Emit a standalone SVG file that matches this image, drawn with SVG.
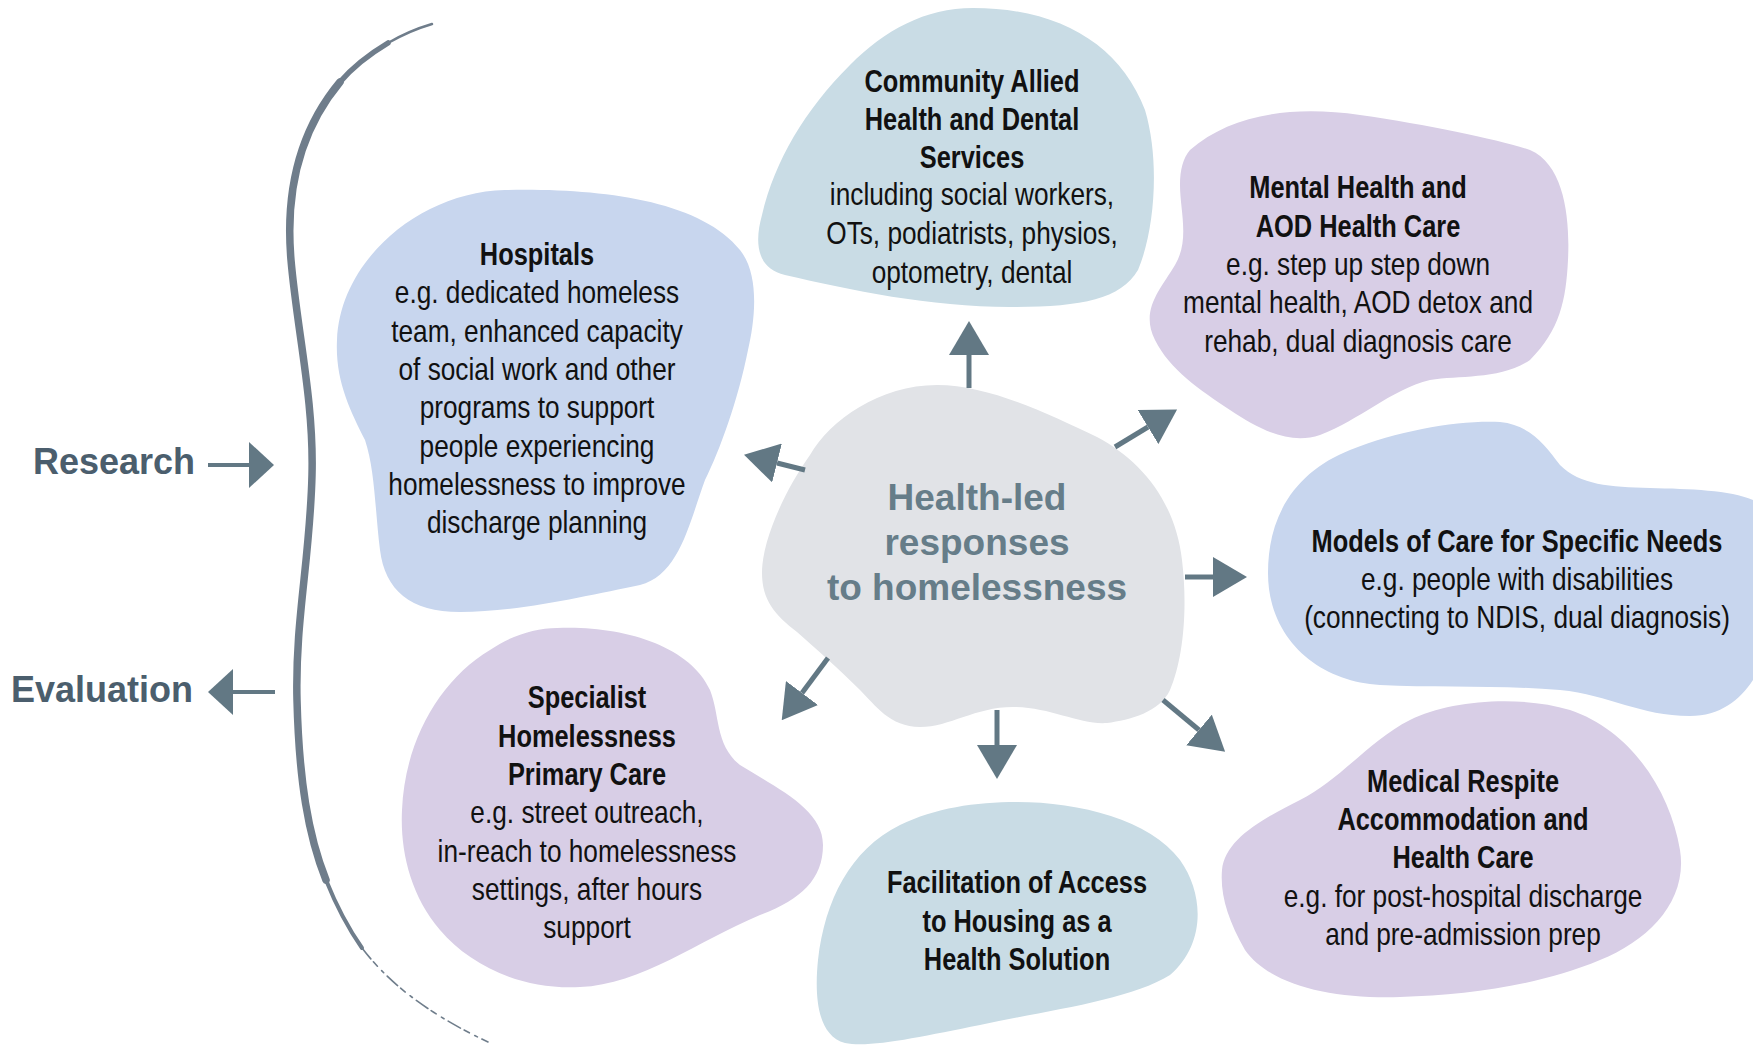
<svg xmlns="http://www.w3.org/2000/svg" width="1753" height="1059" viewBox="0 0 1753 1059">
<style>
.t{font-family:"Liberation Sans",Arial,sans-serif;fill:#111;text-anchor:middle}
.b{font-weight:700;font-size:31px}
.r{font-weight:400;font-size:32px}
.c{font-family:"Liberation Sans",Arial,sans-serif;font-weight:700;font-size:37px;fill:#667d89;text-anchor:middle}
.lab{font-family:"Liberation Sans",Arial,sans-serif;font-weight:700;font-size:36px;fill:#4b5e6d}
.arr{stroke:#627884;stroke-width:5;fill:none;marker-end:url(#ah)}
.arr2{stroke:#627884;stroke-width:4;fill:none;marker-end:url(#ah2)}
.br{stroke:#6f7d8b;fill:none;stroke-linecap:round}
.blue{fill:#c9dce5}.peri{fill:#c8d6ee}.lav{fill:#d8cee6}.grey{fill:#e1e3e7}
</style>
<defs>
<marker id="ah" markerUnits="userSpaceOnUse" markerWidth="34" markerHeight="40" refX="0" refY="20" orient="auto"><path d="M0,0 L34,20 L0,40 Z" fill="#627884"/></marker>
<marker id="ah2" markerUnits="userSpaceOnUse" markerWidth="25" markerHeight="46" refX="0" refY="23" orient="auto"><path d="M0,0 L25,23 L0,46 Z" fill="#627884"/></marker>
</defs>
<rect width="1753" height="1059" fill="#fff"/>

<g id="bracket">
<path class="br" stroke-width="2.5" d="M432,24 C415,29 400,36 388,43"/>
<path class="br" stroke-width="5.5" d="M388,43 C368,55 352,68 340,82"/>
<path class="br" stroke-width="7.5" d="M340,82 C300,130 285,190 291,260 C297,330 314,400 312,475 C310,560 295,620 297,700 C299,780 308,835 326,880"/>
<path class="br" stroke-width="4" d="M326,880 C336,905 348,928 362,948"/>
<path class="br" stroke-width="1.6" stroke-dasharray="14 4 6 6 3 5" d="M362,948 C385,978 420,1010 488,1042"/>
</g>

<g id="research">
<text class="lab" x="33" y="474">Research</text>
<line class="arr2" x1="208" y1="465" x2="249" y2="465"/>
</g>
<g id="evaluation">
<text class="lab" x="11" y="702">Evaluation</text>
<line class="arr2" x1="275" y1="692" x2="233" y2="692"/>
</g>

<g id="community">
<path class="blue" d="M973,8 C1060,8 1120,45 1145,110 C1160,160 1155,230 1138,270 C1120,300 1080,307 1010,307 C930,307 850,290 785,275 C755,268 755,240 762,215 C775,160 805,110 850,65 C885,30 925,8 973,8 Z"/>
<g transform="translate(972 0) scale(0.82 1)">
<text class="t b" x="0" y="92">Community Allied</text>
<text class="t b" x="0" y="130">Health and Dental</text>
<text class="t b" x="0" y="168">Services</text>
<text class="t r" x="0" y="205">including social workers,</text>
<text class="t r" x="0" y="244">OTs, podiatrists, physios,</text>
<text class="t r" x="0" y="283">optometry, dental</text>
</g>
</g>

<g id="hospitals">
<path class="peri" d="M505,190 C600,188 700,200 740,250 C760,275 755,320 748,350 C738,400 720,450 705,480 C690,520 680,575 640,585 C590,595 520,612 460,612 C410,612 385,590 380,550 C375,510 375,470 365,440 C350,410 335,380 337,340 C340,260 420,192 505,190 Z"/>
<g transform="translate(537 0) scale(0.82 1)">
<text class="t b" x="0" y="265">Hospitals</text>
<text class="t r" x="0" y="303">e.g. dedicated homeless</text>
<text class="t r" x="0" y="342">team, enhanced capacity</text>
<text class="t r" x="0" y="380">of social work and other</text>
<text class="t r" x="0" y="418">programs to support</text>
<text class="t r" x="0" y="457">people experiencing</text>
<text class="t r" x="0" y="495">homelessness to improve</text>
<text class="t r" x="0" y="533">discharge planning</text>
</g>
</g>

<g id="mental-health">
<path class="lav" d="M1190,150 C1230,115 1290,105 1360,115 C1430,125 1500,140 1530,150 C1565,165 1570,220 1568,260 C1566,300 1560,330 1530,360 C1500,380 1460,375 1430,380 C1390,390 1360,420 1320,435 C1290,445 1260,430 1230,410 C1200,390 1170,370 1155,340 C1140,310 1160,290 1175,265 C1190,240 1180,210 1180,185 C1180,170 1183,158 1190,150 Z"/>
<g transform="translate(1358 0) scale(0.82 1)">
<text class="t b" x="0" y="198">Mental Health and</text>
<text class="t b" x="0" y="237">AOD Health Care</text>
<text class="t r" x="0" y="275">e.g. step up step down</text>
<text class="t r" x="0" y="313">mental health, AOD detox and</text>
<text class="t r" x="0" y="352">rehab, dual diagnosis care</text>
</g>
</g>

<g id="models-of-care">
<path class="peri" d="M1268,573 C1268,510 1300,470 1350,450 C1400,430 1460,420 1500,422 C1530,425 1545,445 1560,465 C1580,485 1610,487 1650,488 C1690,489 1730,490 1753,500 L1753,680 C1740,700 1720,716 1690,716 C1640,716 1610,695 1560,690 C1500,685 1440,688 1380,685 C1320,682 1268,640 1268,573 Z"/>
<g transform="translate(1517 0) scale(0.82 1)">
<text class="t b" x="0" y="552">Models of Care for Specific Needs</text>
<text class="t r" x="0" y="590">e.g. people with disabilities</text>
<text class="t r" x="0" y="628">(connecting to NDIS, dual diagnosis)</text>
</g>
</g>

<g id="medical-respite">
<path class="lav" d="M1222,870 C1225,840 1260,820 1300,800 C1340,780 1370,740 1410,720 C1450,700 1520,695 1570,710 C1630,730 1670,790 1680,850 C1688,900 1650,940 1600,960 C1540,985 1470,995 1400,997 C1330,999 1270,985 1245,950 C1228,920 1220,895 1222,870 Z"/>
<g transform="translate(1463 0) scale(0.82 1)">
<text class="t b" x="0" y="792">Medical Respite</text>
<text class="t b" x="0" y="830">Accommodation and</text>
<text class="t b" x="0" y="868">Health Care</text>
<text class="t r" x="0" y="907">e.g. for post-hospital discharge</text>
<text class="t r" x="0" y="945">and pre-admission prep</text>
</g>
</g>

<g id="housing">
<path class="blue" d="M1017,802 C1080,802 1150,820 1180,860 C1205,895 1205,945 1170,975 C1130,1000 1050,1010 980,1025 C920,1037 870,1048 845,1043 C815,1035 815,990 818,960 C825,900 850,850 900,825 C935,808 975,802 1017,802 Z"/>
<g transform="translate(1017 0) scale(0.82 1)">
<text class="t b" x="0" y="893">Facilitation of Access</text>
<text class="t b" x="0" y="932">to Housing as a</text>
<text class="t b" x="0" y="970">Health Solution</text>
</g>
</g>

<g id="specialist">
<path class="lav" d="M557,628 C620,625 690,645 710,690 C720,715 715,745 740,765 C780,790 823,810 823,845 C823,880 800,900 760,915 C700,940 640,985 580,987 C520,990 470,965 440,930 C410,895 400,850 402,810 C405,740 440,680 490,650 C510,636 535,628 557,628 Z"/>
<g transform="translate(587 0) scale(0.82 1)">
<text class="t b" x="0" y="708">Specialist</text>
<text class="t b" x="0" y="747">Homelessness</text>
<text class="t b" x="0" y="785">Primary Care</text>
<text class="t r" x="0" y="823">e.g. street outreach,</text>
<text class="t r" x="0" y="862">in-reach to homelessness</text>
<text class="t r" x="0" y="900">settings, after hours</text>
<text class="t r" x="0" y="938">support</text>
</g>
</g>

<g id="center">
<path class="grey" d="M937,385 C990,385 1050,415 1097,437 C1140,460 1175,500 1182,560 C1188,610 1183,660 1170,690 C1160,712 1130,720 1107,723 C1080,725 1050,707 1013,707 C975,707 950,727 920,727 C890,727 875,705 860,690 C840,670 815,648 797,632 C775,615 762,600 762,573 C762,540 785,490 810,455 C830,420 880,385 937,385 Z"/>
<text class="c" x="977" y="510">Health-led</text>
<text class="c" x="977" y="555">responses</text>
<text class="c" x="977" y="600">to homelessness</text>
</g>

<g id="connectors">
<line class="arr" x1="969" y1="388" x2="969" y2="355"/>
<line class="arr" x1="1115" y1="447" x2="1148" y2="427"/>
<line class="arr" x1="805" y1="470" x2="777" y2="463"/>
<line class="arr" x1="1185" y1="577" x2="1213" y2="577"/>
<line class="arr" x1="828" y1="658" x2="802" y2="693"/>
<line class="arr" x1="997" y1="710" x2="997" y2="745"/>
<line class="arr" x1="1163" y1="700" x2="1199" y2="730"/>
</g>
</svg>
